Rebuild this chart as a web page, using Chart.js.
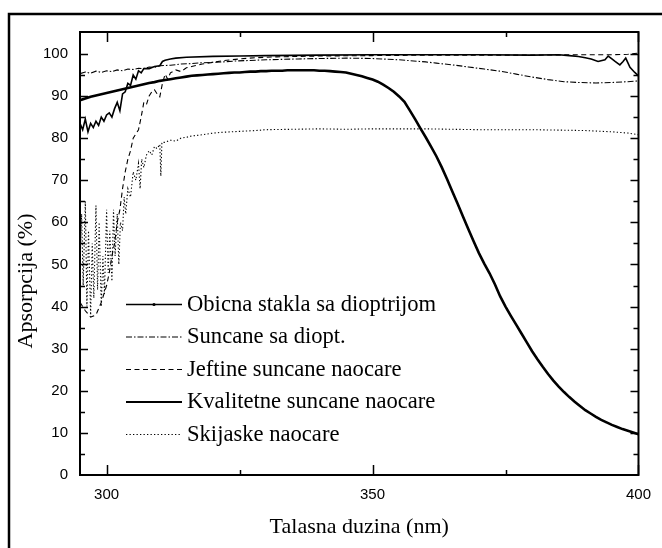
<!DOCTYPE html>
<html><head><meta charset="utf-8">
<script src="https://cdn.jsdelivr.net/npm/chart.js@4/dist/chart.umd.min.js"></script>
<style>html,body{margin:0;padding:0;background:#fff;}#wrap{width:662px;height:548px;position:relative;}</style>
</head><body><div id="wrap"><canvas id="c" width="662" height="548"></canvas></div>
<script>
// ---- DATA ----
const seriesNames = ["Obicna stakla sa dioptrijom","Suncane sa diopt.","Jeftine suncane naocare","Kvalitetne suncane naocare","Skijaske naocare"];
const xTickLabels = [300, 350, 400];
const xMinorTicks = [325, 375];
const yTickLabels = [0,10,20,30,40,50,60,70,80,90,100];
const xAxisTitle = "Talasna duzina (nm)";
const yAxisTitle = "Apsorpcija (%)";

const obicnaX = [295,295.5,296,296.5,297,297.5,298,298.5,299,299.5,300,300.5,301,301.5,302,302.5,303,303.5,304,304.5,305,305.5,306,306.5,307,308,309,310,310.5,311,312,313,315,320,325,330,340,350,360,370,380,385,387,388.7,390,391.1,392.4,393.7,394.3,395,395.6,396.5,397.1,397.6,398.4,399.3,400];
const obicnaY = [83.5,82.0,84.5,81.5,83.5,82.5,84.0,83.0,85.0,84.0,85.5,86.0,85.0,87.0,88.5,86.5,90.5,91.0,93.0,92.5,95.0,94.0,96.0,95.5,96.5,96.5,97.0,97.2,98.2,98.5,98.8,99.0,99.2,99.4,99.5,99.6,99.7,99.8,99.8,99.8,99.7,99.8,99.6,99.4,99.1,98.8,98.2,98.6,99.5,98.8,98.2,97.4,98.2,99.0,96.8,95.6,94.8];

const suncaneX = [295,296,297,298,299,300,301,302,303,304,305,306,307,308,309,310,312,314,316,318,320,322,324,326,328,330,333,336,340,345,350,355,360,362,365,368,371,374,377,380,383,386,389,392,395,398,400];
const suncaneY = [95.3,95.7,95.4,95.9,95.6,96.0,95.8,96.2,96.0,96.4,96.3,96.6,96.5,96.9,96.8,97.2,97.3,97.6,97.7,97.9,98.0,98.1,98.3,98.4,98.5,98.6,98.7,98.8,98.9,99.0,98.9,98.6,98.1,97.8,97.4,96.9,96.4,95.9,95.2,94.5,93.9,93.4,93.2,93.1,93.2,93.4,93.6];

const jeftineX = [295,296,297,298,299,300,300.5,301,301.5,302,302.5,303,303.5,304,304.5,305,305.5,306,306.5,307,307.5,308,308.5,309,309.5,310,310.5,311,311.5,312,313,314,315,316,318,320,322,325,328,332,336,340,350,360,370,380,390,395,398,400];
const jeftineY = [41,39,37.5,38,41,45,48,52,55,60,63,68,72,75,77,80,81,82,85,88.5,88,90,91,91.5,90.5,89.8,93,95.2,94,95.5,96.2,95.8,96.7,97,97.6,98.0,98.4,98.8,99.1,99.3,99.4,99.5,99.6,99.7,99.7,99.7,99.8,99.8,99.9,100.2];

const kvalitetneX = [295,296,297,298,299,300,301,302,303,304,305,306,307,308,309,310,311,312,313,314,315,316,317,318,319,320,321,322,323,324,325,326,327,328,329,330,331,332,333,334,335,336,337,338,339,340,341,342,343,344,345,346,347,348,349,350,351,352,353,354,355,356,357,358,359,360,361,362,363,364,365,366,367,368,369,370,371,372,373,374,375,376,377,378,379,380,381,382,383,384,385,386,387,388,389,390,391,392,393,394,395,396,397,398,399,400];
const kvalitetneY = [89.0,89.4,89.8,90.1,90.4,90.7,91.0,91.3,91.6,91.9,92.2,92.5,92.8,93.1,93.3,93.6,93.8,94.0,94.2,94.4,94.6,94.8,94.9,95.0,95.1,95.2,95.3,95.4,95.5,95.6,95.6,95.7,95.8,95.8,95.9,95.9,96.0,96.0,96.0,96.1,96.1,96.1,96.1,96.1,96.1,96.0,96.0,95.9,95.8,95.7,95.6,95.3,95.0,94.7,94.3,93.9,93.4,92.7,91.9,91.0,89.9,88.6,86.6,84.5,82.3,80.2,78.0,75.7,73.1,70.3,67.3,64.4,61.4,58.4,55.5,52.7,50.2,47.9,45.3,42.4,40.0,37.8,35.7,33.6,31.5,29.4,27.5,25.7,24.0,22.4,21.0,19.7,18.5,17.4,16.4,15.4,14.6,13.8,13.1,12.5,11.9,11.4,10.9,10.5,10.1,9.7];

const skijaskeX = [295,295.3,295.6,296,296.3,296.6,297,297.3,297.6,298,298.3,298.6,299,299.3,299.6,300,300.3,300.6,301,301.3,301.6,302,302.3,302.6,303,303.3,303.6,304,304.5,305,305.5,306,306.3,306.6,307,307.5,308,308.5,309,309.5,310,310.2,310.4,311,312,313,314,315,316,318,320,322,325,328,330,335,340,345,350,360,370,380,390,395,398,400];
const skijaskeY = [50,62,45,65,40,58,38,55,42,64,44,60,40,52,43,63,48,58,46,63,52,62,50,60,58,66,62,68,66,72,70,74,68,75,73,76,77,76,78,77.5,78.5,71,79,79,79.5,79.3,80,80.2,80.5,80.8,81.2,81.4,81.6,81.8,82.0,82.1,82.2,82.1,82.2,82.2,82.0,82.0,81.8,81.5,81.2,80.8];

// ---- styles ----
const styles = [
  {width:1.6, dash:[], marker:true},
  {width:1.1, dash:[6,2,1.5,2]},
  {width:1.1, dash:[5,3.5]},
  {width:2.6, dash:[]},
  {width:1.1, dash:[1.3,2.2]}
];
const xs = [obicnaX, suncaneX, jeftineX, kvalitetneX, skijaskeX];
const ys = [obicnaY, suncaneY, jeftineY, kvalitetneY, skijaskeY];

const datasets = seriesNames.map((n,i)=>({
  label:n,
  data: xs[i].map((x,k)=>({x:x, y:ys[i][k]})),
  borderColor:'#000', backgroundColor:'#000',
  borderWidth:styles[i].width, borderDash:styles[i].dash,
  pointRadius:0, tension:0, fill:false
}));

const SERIF = '"Liberation Serif", "Times New Roman", serif';
const SANS = '"Liberation Sans", Arial, sans-serif';

const framePlugin = {
  id:'frame',
  beforeDraw(chart){
    const ctx = chart.ctx;
    ctx.save();
    ctx.fillStyle='#fff'; ctx.fillRect(0,0,chart.width,chart.height);
    ctx.strokeStyle='#000'; ctx.lineWidth=2.5;
    ctx.beginPath();
    ctx.moveTo(9, chart.height+2); ctx.lineTo(9,14); ctx.lineTo(chart.width+2,14);
    ctx.stroke();
    ctx.restore();
  },
  afterDatasetsDraw(chart){
    const ctx = chart.ctx, a = chart.chartArea;
    const sx = chart.scales.x, sy = chart.scales.y;
    ctx.save();
    ctx.strokeStyle='#000';
    ctx.lineWidth=2;
    ctx.strokeRect(a.left, a.top, a.right-a.left, a.bottom-a.top);
    ctx.lineWidth=1.5;
    ctx.beginPath();
    const xt = xTickLabels.map(v=>[v,10]).concat(xMinorTicks.map(v=>[v,5]));
    xt.forEach(([v,len])=>{
      const px = Math.round(sx.getPixelForValue(v))+0.5;
      ctx.moveTo(px,a.bottom); ctx.lineTo(px,a.bottom-len);
      ctx.moveTo(px,a.top); ctx.lineTo(px,a.top+len);
    });
    for(let v=5; v<=100; v+=5){
      const len = (v%10===0)?8:5;
      const py = Math.round(sy.getPixelForValue(v))+0.5;
      ctx.moveTo(a.left,py); ctx.lineTo(a.left+len,py);
      ctx.moveTo(a.right,py); ctx.lineTo(a.right-len,py);
    }
    ctx.stroke();
    // y axis title
    ctx.fillStyle='#000';
    ctx.font = '22px '+SERIF;
    ctx.textAlign='center'; ctx.textBaseline='middle';
    ctx.translate(26, 281);
    ctx.rotate(-Math.PI/2);
    ctx.fillText(yAxisTitle, 0, 0);
    ctx.restore();
    // legend
    ctx.save();
    const lx0 = a.left+46, lx1 = a.left+102, tx = a.left+107;
    const rowY = [304,336.5,369,401.5,434];
    ctx.font = '22.6px '+SERIF;
    ctx.fillStyle='#000'; ctx.textAlign='left'; ctx.textBaseline='middle';
    seriesNames.forEach((n,i)=>{
      const y = rowY[i]+0.5;
      ctx.strokeStyle='#000';
      ctx.lineWidth = Math.min(styles[i].width, 2.2);
      ctx.setLineDash(styles[i].dash);
      ctx.beginPath(); ctx.moveTo(lx0,y); ctx.lineTo(lx1,y); ctx.stroke();
      ctx.setLineDash([]);
      if(styles[i].marker){ ctx.beginPath(); ctx.arc((lx0+lx1)/2, y, 1.6, 0, Math.PI*2); ctx.fill(); }
      ctx.fillText(n, tx, rowY[i]+1);
    });
    ctx.restore();
  }
};

new Chart(document.getElementById('c'), {
  type:'line',
  data:{datasets},
  plugins:[framePlugin],
  options:{
    responsive:false, animation:false, devicePixelRatio:1,
    layout:{padding:{top:32,right:21,left:0,bottom:0}},
    plugins:{legend:{display:false}, tooltip:{enabled:false}},
    scales:{
      x:{type:'linear', min:295, max:400,
        afterBuildTicks:s=>{ s.ticks = xTickLabels.concat(xMinorTicks).sort((a,b)=>a-b).map(v=>({value:v})); },
        afterFit:s=>{ s.height = 73; },
        ticks:{callback:v=> xTickLabels.includes(v)? String(v):'', color:'#000', font:{family:SANS,size:15}, padding:11, maxRotation:0, autoSkip:false},
        grid:{drawOnChartArea:false, drawTicks:false}, border:{display:false},
        title:{display:true, text:xAxisTitle, color:'#000', font:{family:SERIF,size:22}, padding:{top:0,bottom:8}}
      },
      y:{type:'linear', min:0, max:105.2,
        afterBuildTicks:s=>{ s.ticks = yTickLabels.map(v=>({value:v})); },
        afterFit:s=>{ s.width = 80; },
        ticks:{color:'#000', font:{family:SANS,size:15}, padding:12, autoSkip:false},
        grid:{drawOnChartArea:false, drawTicks:false}, border:{display:false}
      }
    }
  }
});
</script></body></html>
